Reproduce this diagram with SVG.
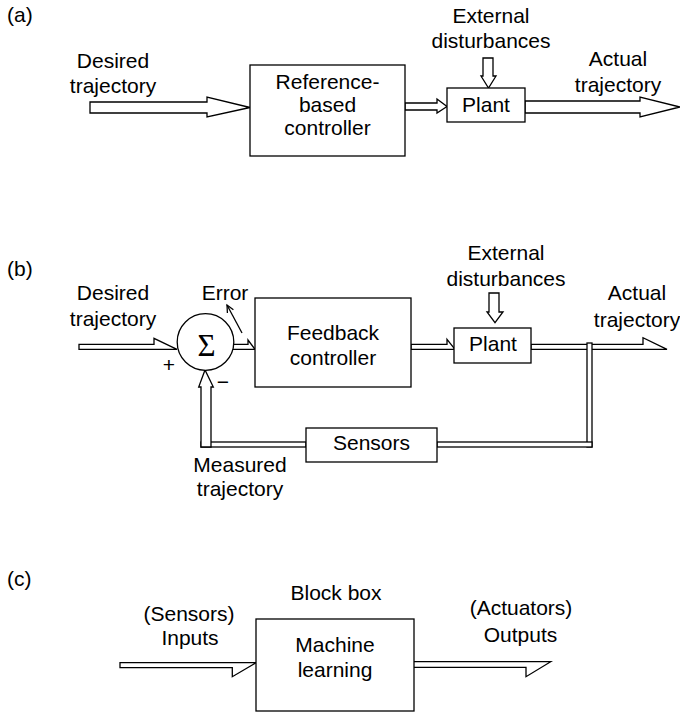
<svg xmlns="http://www.w3.org/2000/svg" width="680" height="713" viewBox="0 0 680 713">
<style>
text{font-family:"Liberation Sans",Arial,sans-serif;font-size:21px;fill:#000;text-anchor:middle}
text.l{text-anchor:start}
.box{fill:#fff;stroke:#000;stroke-width:1.3}
.ar{fill:#fff;stroke:#000;stroke-width:1.3;stroke-linejoin:miter}
.ln{fill:none;stroke:#000;stroke-width:1.3}
.sig{font-family:"Liberation Serif","Times New Roman",serif;font-size:31px}
</style>
<rect width="680" height="713" fill="#fff"/>

<!-- (a) -->
<text class="l" x="7" y="22">(a)</text>
<text x="113" y="68">Desired</text>
<text x="113" y="93">trajectory</text>
<text x="491" y="22.5">External</text>
<text x="491" y="48">disturbances</text>
<text x="618" y="65.5">Actual</text>
<text x="618" y="92">trajectory</text>

<g id="connectors-a">
<polygon class="ar" points="90,102 207,102 207,97 250,107.5 207,117 207,113 90,113"/>
<polygon class="ar" points="405,103 437,103 437,99 447,106.5 437,113 437,110 405,110"/>
<polygon class="ar" points="483,58 493,58 493,76 496,76 488.5,88 481,76 483,76"/>
<polygon class="ar" points="525,101 640,101 640,97 680,107 640,117 640,113 525,113"/>
</g>
<g id="node-ref-controller">
<rect class="box" x="250" y="65" width="155" height="91"/>
<text x="327.5" y="89">Reference-</text>
<text x="327.5" y="112">based</text>
<text x="327.5" y="135">controller</text>
</g>
<g id="node-plant-a">
<rect class="box" x="447" y="88" width="78" height="34"/>
<text x="486" y="112">Plant</text>
</g>

<!-- (b) -->
<text class="l" x="7" y="276">(b)</text>
<text x="113" y="300">Desired</text>
<text x="113" y="326">trajectory</text>
<text x="225" y="300">Error</text>
<text x="506" y="260">External</text>
<text x="506" y="285.5">disturbances</text>
<text x="637" y="300">Actual</text>
<text x="637" y="326.5">trajectory</text>
<text x="169" y="371.5">+</text>
<text x="223" y="389">−</text>
<text x="240" y="472">Measured</text>
<text x="240" y="496">trajectory</text>

<g id="connectors-b">
<polygon class="ar" points="79,344.3 154,344.3 154,338.3 177,349.3 79,349.3"/>
<path class="ar" d="M233,344.3 H248 V340 L255,349.3 H233"/>
<path class="ar" d="M411,344.3 H447 V339.3 L455,349.3 H411 Z"/>
<polygon class="ar" points="489,293 499,293 499,312 503,312 495,322.7 487,312 489,312"/>
<path class="ar" d="M531,344.3 H643 V337.7 L667,349.3 H531 Z"/>
<rect class="ar" x="587" y="343" width="5" height="104"/>
<rect class="ar" x="437" y="442" width="155" height="5"/>
<rect class="ar" x="201" y="442" width="105" height="5"/>
<polygon class="ar" points="201,447 201,387 198.7,387 205,370 213.3,387 211,387 211,447"/>
<line class="ln" x1="242" y1="333" x2="227" y2="305"/>
<polyline class="ln" points="227.4,313 227,305 233.4,309.8"/>
</g>
<g id="node-sum">
<circle class="box" cx="205.5" cy="342" r="28.3"/>
<text class="sig" x="206.5" y="355.5">Σ</text>
</g>
<g id="node-feedback-controller">
<rect class="box" x="255" y="298" width="156" height="89"/>
<text x="333" y="339.5">Feedback</text>
<text x="333" y="365">controller</text>
</g>
<g id="node-plant-b">
<rect class="box" x="454" y="328" width="77" height="35"/>
<text x="493" y="351">Plant</text>
</g>
<g id="node-sensors">
<rect class="box" x="306" y="428" width="131" height="34"/>
<text x="371.5" y="450">Sensors</text>
</g>

<!-- (c) -->
<text class="l" x="7" y="586">(c)</text>
<text x="336" y="600">Block box</text>
<text x="189" y="620.5">(Sensors)</text>
<text x="190" y="645">Inputs</text>
<text x="521" y="614.5">(Actuators)</text>
<text x="520.5" y="641.5">Outputs</text>

<g id="connectors-c">
<path class="ar" d="M120,662.7 H256 L232.3,676.7 V667.7 H120 Z"/>
<path class="ar" d="M414,661.7 H550.7 L526,676.7 V667.3 H414"/>
</g>
<g id="node-ml">
<rect class="box" x="256" y="619" width="158" height="92"/>
<text x="335" y="652">Machine</text>
<text x="335" y="677">learning</text>
</g>
</svg>
